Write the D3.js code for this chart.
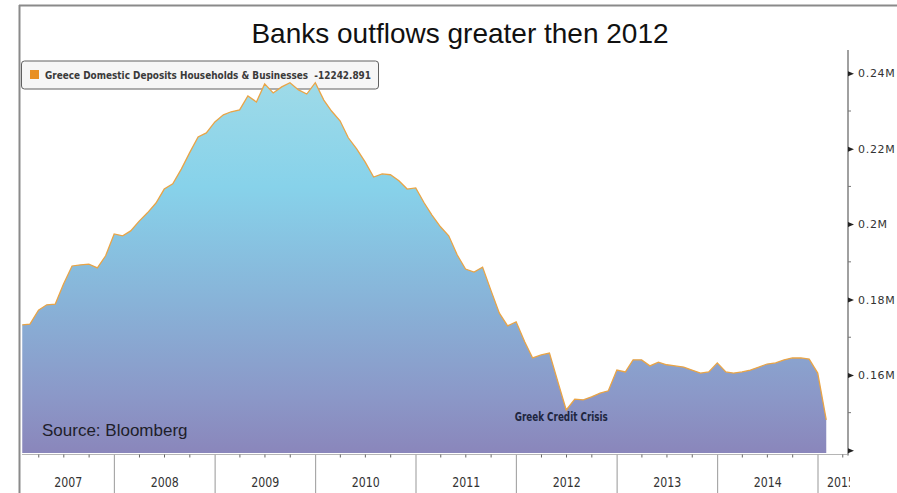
<!DOCTYPE html>
<html>
<head>
<meta charset="utf-8">
<script src="https://cdn.jsdelivr.net/npm/d3@7"></script>
<style>
  body { margin: 0; background: #fff; }
</style>
</head>
<body>
<div id="chart"></div>
<script>
// Greece domestic deposits, households & businesses (thousands EUR), month ends Jan 2007 .. Jan 2015
const firstMonth = [2007, 0];
const deposits = [
  173.3, 173.5, 177.2, 178.6, 178.8, 184.1, 188.9, 189.2, 189.4, 188.4, 191.6, 197.4,
  196.9, 198.2, 200.8, 203.0, 205.6, 209.3, 210.7, 214.6, 218.9, 223.1, 224.2, 227.1,
  229.0, 229.8, 230.3, 234.0, 232.4, 237.2, 234.8, 236.4, 237.5, 235.6, 234.5, 237.5,
  232.9, 230.0, 227.4, 222.9, 219.9, 216.5, 212.5, 213.3, 213.1, 211.5, 209.3, 209.6,
  205.6, 202.4, 199.3, 196.9, 191.8, 188.1, 187.3, 188.6, 182.5, 176.4, 173.0, 174.1,
  168.8, 164.5, 165.3, 165.8, 158.1, 150.7, 153.6, 153.4, 154.2, 155.2, 155.8, 161.3,
  160.8, 164.0, 164.0, 162.4, 163.4, 162.7, 162.4, 162.1, 161.3, 160.5, 160.8, 163.2,
  160.8, 160.5, 160.8, 161.3, 162.1, 162.9, 163.2, 164.0, 164.5, 164.5, 164.2, 160.5,
  148.1
];
const years = [2007, 2008, 2009, 2010, 2011, 2012, 2013, 2014, 2015];
const yTicks = [140, 160, 180, 200, 220, 240];
const yMinor = [150, 170, 190, 210, 230];
const chartTitle = "Banks outflows greater then 2012";
const legendText = "Greece Domestic Deposits Households & Businesses  -12242.891";
const sourceText = "Source: Bloomberg";
const noteText = "Greek Credit Crisis";
const noteMonth = [2012, 5];

const width = 897, height = 493;
const plotLeft = 22, axisX = 848, baseY = 454.5;

const data = deposits.map((v, i) => ({
  date: new Date(firstMonth[0], firstMonth[1] + i + 1, 0),
  v: v
}));

const svg = d3.select("#chart").append("svg")
  .attr("width", width)
  .attr("height", height)
  .style("font-family", "'DejaVu Sans Condensed', 'DejaVu Sans', sans-serif");

const x = d3.scaleTime()
  .domain([new Date(2007, 0, 1), new Date(2015, 0, 1)])
  .range([14, 818]);

const y = d3.scaleLinear()
  .domain([139.3, 240])
  .range([453, 73.3]);

// gradient for the area
const grad = svg.append("defs").append("linearGradient")
  .attr("id", "fillGrad")
  .attr("gradientUnits", "userSpaceOnUse")
  .attr("x1", 0).attr("x2", 0)
  .attr("y1", 73).attr("y2", 453);
grad.append("stop").attr("offset", "0%").attr("stop-color", "#a0dbe8");
grad.append("stop").attr("offset", "30%").attr("stop-color", "#87d2ea");
grad.append("stop").attr("offset", "60%").attr("stop-color", "#88b3d8");
grad.append("stop").attr("offset", "85%").attr("stop-color", "#8b98c8");
grad.append("stop").attr("offset", "100%").attr("stop-color", "#8a86bb");

// legend box goes under the area, text on top
svg.append("rect")
  .attr("x", 21.5).attr("y", 61).attr("width", 357).attr("height", 28)
  .attr("rx", 3)
  .attr("fill", "#f6f6f6")
  .attr("stroke", "#606060");

const area = d3.area()
  .x(d => x(d.date))
  .y0(y(139.3))
  .y1(d => y(d.v));

const line = d3.line()
  .x(d => x(d.date))
  .y(d => y(d.v));

svg.append("path")
  .datum(data)
  .attr("d", area)
  .attr("fill", "url(#fillGrad)");

svg.append("path")
  .datum(data)
  .attr("d", line)
  .attr("fill", "none")
  .attr("stroke", "#e9a446")
  .attr("stroke-width", 1.3);

// frame
svg.append("line").attr("x1", 19.5).attr("x2", 19.5).attr("y1", 5).attr("y2", height)
  .attr("stroke", "#8a8a8a").attr("stroke-width", 2);
svg.append("line").attr("x1", 19).attr("x2", width).attr("y1", 5.5).attr("y2", 5.5)
  .attr("stroke", "#8a8a8a").attr("stroke-width", 2);

// x axis
svg.append("line").attr("x1", plotLeft).attr("x2", axisX).attr("y1", baseY).attr("y2", baseY)
  .attr("stroke", "#b5b5b5").attr("stroke-width", 1);

const quarters = d3.timeMonth.every(3).range(new Date(2007, 3, 1), new Date(2015, 4, 1))
  .filter(d => d.getMonth() !== 0);
svg.append("g").selectAll("line")
  .data(quarters)
  .join("line")
  .attr("x1", d => x(d)).attr("x2", d => x(d))
  .attr("y1", baseY).attr("y2", baseY + 3)
  .attr("stroke", "#666");

svg.append("g").selectAll("line")
  .data(years.slice(1))
  .join("line")
  .attr("x1", d => x(new Date(d, 0, 1))).attr("x2", d => x(new Date(d, 0, 1)))
  .attr("y1", baseY).attr("y2", height)
  .attr("stroke", "#a8a8a8").attr("stroke-width", 1.2);

svg.append("clipPath").attr("id", "xlab")
  .append("rect").attr("x", 0).attr("y", 0).attr("width", 850).attr("height", height);

svg.append("g").attr("clip-path", "url(#xlab)")
  .selectAll("text")
  .data(years)
  .join("text")
  .attr("x", d => {
    const a = Math.max(x(new Date(d, 0, 1)), plotLeft);
    const b = Math.min(x(new Date(d + 1, 0, 1)), 864);
    return (a + b) / 2;
  })
  .attr("y", 487)
  .attr("text-anchor", "middle")
  .attr("font-size", 14)
  .attr("textLength", 28)
  .attr("lengthAdjust", "spacingAndGlyphs")
  .attr("fill", "#333")
  .text(d => d);

// right y axis
svg.append("line").attr("x1", axisX).attr("x2", axisX).attr("y1", 50).attr("y2", baseY + 1)
  .attr("stroke", "#a0a0a0").attr("stroke-width", 2);

const yAxis = svg.append("g")
  .attr("transform", `translate(${axisX},0)`)
  .call(d3.axisRight(y)
    .tickValues(yTicks)
    .tickSize(0)
    .tickPadding(10)
    .tickFormat(d => d === 140 ? "" : (d / 1000) + "M"));
yAxis.select(".domain").remove();
yAxis.selectAll("text")
  .attr("font-family", "'DejaVu Sans', sans-serif")
  .attr("font-size", 11)
  .attr("letter-spacing", 0.7)
  .attr("fill", "#333");
yAxis.selectAll(".tick").append("path")
  .attr("d", "M0,-2.5L6,0L0,2.5Z")
  .attr("fill", "#222");

svg.append("g").selectAll("line")
  .data(yMinor)
  .join("line")
  .attr("x1", axisX).attr("x2", axisX + 3)
  .attr("y1", d => y(d)).attr("y2", d => y(d))
  .attr("stroke", "#777");

// title
svg.append("text")
  .attr("x", 460)
  .attr("y", 43)
  .attr("text-anchor", "middle")
  .attr("font-family", "'Liberation Sans', Arial, sans-serif")
  .attr("font-size", 28)
  .attr("fill", "#111")
  .text(chartTitle);

// legend marker and label
svg.append("rect")
  .attr("x", 30).attr("y", 70).attr("width", 9).attr("height", 9)
  .attr("fill", "#e88f22");
svg.append("text")
  .attr("x", 45).attr("y", 79)
  .attr("font-size", 11)
  .attr("font-weight", "bold")
  .attr("textLength", 326)
  .attr("lengthAdjust", "spacingAndGlyphs")
  .attr("fill", "#3a3a3a")
  .attr("xml:space", "preserve")
  .text(legendText);

// source
svg.append("text")
  .attr("x", 42).attr("y", 436)
  .attr("font-family", "'Liberation Sans', Arial, sans-serif")
  .attr("font-size", 17)
  .attr("fill", "#1e1e2a")
  .text(sourceText);

// annotation
svg.append("text")
  .attr("x", x(new Date(noteMonth[0], noteMonth[1] + 1, 0)) - 5)
  .attr("y", 420.5)
  .attr("text-anchor", "middle")
  .attr("font-size", 12)
  .attr("font-weight", "bold")
  .attr("textLength", 93)
  .attr("lengthAdjust", "spacingAndGlyphs")
  .attr("fill", "#20263f")
  .text(noteText);
</script>
</body>
</html>
